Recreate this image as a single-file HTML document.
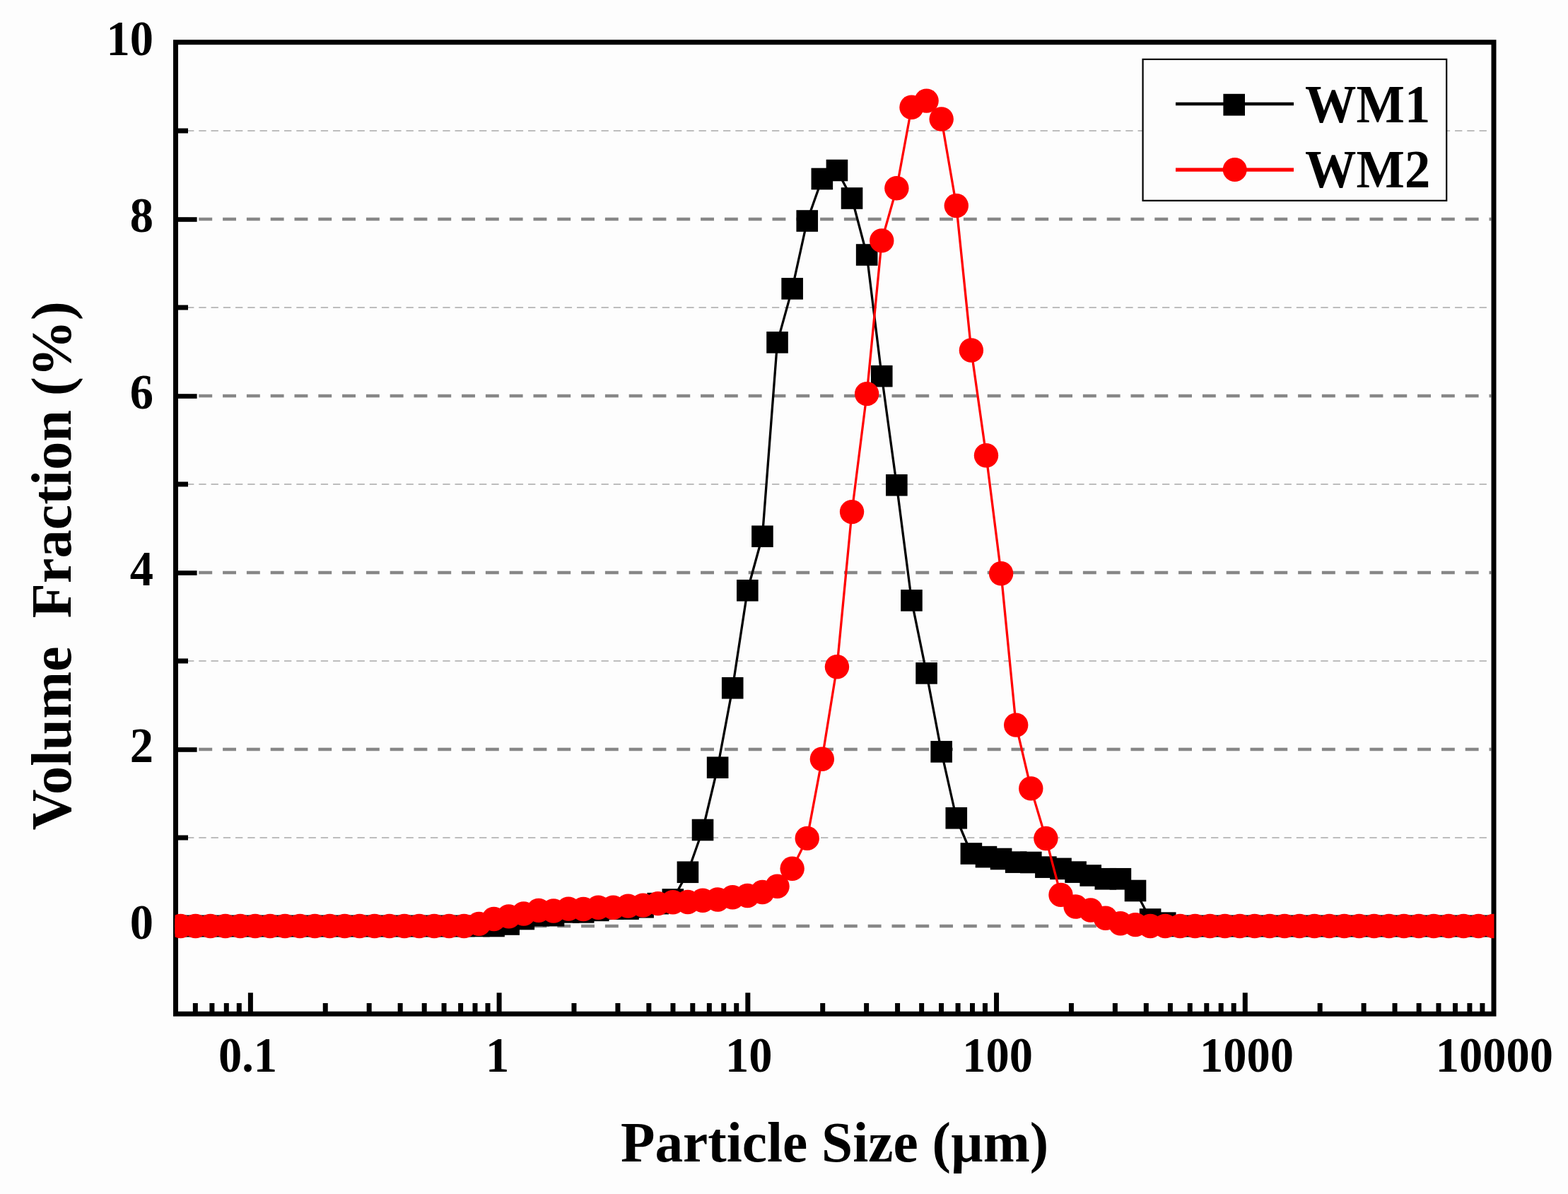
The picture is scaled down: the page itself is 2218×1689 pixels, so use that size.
<!DOCTYPE html>
<html><head><meta charset="utf-8"><title>Particle size distribution</title>
<style>
html,body{margin:0;padding:0;background:#fdfdfd;}
svg{display:block;}
.t{font-family:"Liberation Serif",serif;font-weight:bold;fill:#000;}
</style></head><body>
<svg width="2218" height="1689" viewBox="0 0 2218 1689">
<rect x="0" y="0" width="2218" height="1689" fill="#fdfdfd"/>
<defs><clipPath id="pa"><rect x="247.5" y="59.75" width="1866" height="1374.5"/></clipPath></defs>
<line x1="247.5" y1="1310" x2="2109.5" y2="1310" stroke="#878787" stroke-width="4.3" stroke-dasharray="18.9 14.9"/>
<line x1="247.5" y1="1060" x2="2109.5" y2="1060" stroke="#878787" stroke-width="4.3" stroke-dasharray="18.9 14.9"/>
<line x1="247.5" y1="810" x2="2109.5" y2="810" stroke="#878787" stroke-width="4.3" stroke-dasharray="18.9 14.9"/>
<line x1="247.5" y1="560" x2="2109.5" y2="560" stroke="#878787" stroke-width="4.3" stroke-dasharray="18.9 14.9"/>
<line x1="247.5" y1="310" x2="2109.5" y2="310" stroke="#878787" stroke-width="4.3" stroke-dasharray="18.9 14.9"/>
<line x1="246.8" y1="1185" x2="2109.5" y2="1185" stroke="#bdbdbd" stroke-width="2" stroke-dasharray="10.3 6.95"/>
<line x1="246.8" y1="935" x2="2109.5" y2="935" stroke="#bdbdbd" stroke-width="2" stroke-dasharray="10.3 6.95"/>
<line x1="246.8" y1="685" x2="2109.5" y2="685" stroke="#bdbdbd" stroke-width="2" stroke-dasharray="10.3 6.95"/>
<line x1="246.8" y1="435" x2="2109.5" y2="435" stroke="#bdbdbd" stroke-width="2" stroke-dasharray="10.3 6.95"/>
<line x1="246.8" y1="185" x2="2109.5" y2="185" stroke="#bdbdbd" stroke-width="2" stroke-dasharray="10.3 6.95"/>
<rect x="248.5" y="59.75" width="1864.5" height="1374.5" fill="none" stroke="#000" stroke-width="7"/>
<line x1="248.5" y1="1310.5" x2="278.6" y2="1310.5" stroke="#000" stroke-width="6.6"/>
<line x1="248.5" y1="1060.5" x2="278.6" y2="1060.5" stroke="#000" stroke-width="6.6"/>
<line x1="248.5" y1="810.5" x2="278.6" y2="810.5" stroke="#000" stroke-width="6.6"/>
<line x1="248.5" y1="560.5" x2="278.6" y2="560.5" stroke="#000" stroke-width="6.6"/>
<line x1="248.5" y1="310.5" x2="278.6" y2="310.5" stroke="#000" stroke-width="6.6"/>
<line x1="248.5" y1="1185" x2="266" y2="1185" stroke="#000" stroke-width="7"/>
<line x1="248.5" y1="935" x2="266" y2="935" stroke="#000" stroke-width="7"/>
<line x1="248.5" y1="685" x2="266" y2="685" stroke="#000" stroke-width="7"/>
<line x1="248.5" y1="435" x2="266" y2="435" stroke="#000" stroke-width="7"/>
<line x1="248.5" y1="185" x2="266" y2="185" stroke="#000" stroke-width="7"/>
<line x1="354.38" y1="1434.25" x2="354.38" y2="1404.3" stroke="#000" stroke-width="7"/>
<line x1="706.1" y1="1434.25" x2="706.1" y2="1404.3" stroke="#000" stroke-width="7"/>
<line x1="1057.83" y1="1434.25" x2="1057.83" y2="1404.3" stroke="#000" stroke-width="7"/>
<line x1="1409.55" y1="1434.25" x2="1409.55" y2="1404.3" stroke="#000" stroke-width="7"/>
<line x1="1761.28" y1="1434.25" x2="1761.28" y2="1404.3" stroke="#000" stroke-width="7"/>
<line x1="276.35" y1="1434.25" x2="276.35" y2="1419" stroke="#000" stroke-width="7"/>
<line x1="299.9" y1="1434.25" x2="299.9" y2="1419" stroke="#000" stroke-width="7"/>
<line x1="320.29" y1="1434.25" x2="320.29" y2="1419" stroke="#000" stroke-width="7"/>
<line x1="338.29" y1="1434.25" x2="338.29" y2="1419" stroke="#000" stroke-width="7"/>
<line x1="460.26" y1="1434.25" x2="460.26" y2="1419" stroke="#000" stroke-width="7"/>
<line x1="522.19" y1="1434.25" x2="522.19" y2="1419" stroke="#000" stroke-width="7"/>
<line x1="566.14" y1="1434.25" x2="566.14" y2="1419" stroke="#000" stroke-width="7"/>
<line x1="600.22" y1="1434.25" x2="600.22" y2="1419" stroke="#000" stroke-width="7"/>
<line x1="628.07" y1="1434.25" x2="628.07" y2="1419" stroke="#000" stroke-width="7"/>
<line x1="651.62" y1="1434.25" x2="651.62" y2="1419" stroke="#000" stroke-width="7"/>
<line x1="672.02" y1="1434.25" x2="672.02" y2="1419" stroke="#000" stroke-width="7"/>
<line x1="690.01" y1="1434.25" x2="690.01" y2="1419" stroke="#000" stroke-width="7"/>
<line x1="811.98" y1="1434.25" x2="811.98" y2="1419" stroke="#000" stroke-width="7"/>
<line x1="873.92" y1="1434.25" x2="873.92" y2="1419" stroke="#000" stroke-width="7"/>
<line x1="917.86" y1="1434.25" x2="917.86" y2="1419" stroke="#000" stroke-width="7"/>
<line x1="951.95" y1="1434.25" x2="951.95" y2="1419" stroke="#000" stroke-width="7"/>
<line x1="979.8" y1="1434.25" x2="979.8" y2="1419" stroke="#000" stroke-width="7"/>
<line x1="1003.34" y1="1434.25" x2="1003.34" y2="1419" stroke="#000" stroke-width="7"/>
<line x1="1023.74" y1="1434.25" x2="1023.74" y2="1419" stroke="#000" stroke-width="7"/>
<line x1="1041.73" y1="1434.25" x2="1041.73" y2="1419" stroke="#000" stroke-width="7"/>
<line x1="1163.71" y1="1434.25" x2="1163.71" y2="1419" stroke="#000" stroke-width="7"/>
<line x1="1225.64" y1="1434.25" x2="1225.64" y2="1419" stroke="#000" stroke-width="7"/>
<line x1="1269.59" y1="1434.25" x2="1269.59" y2="1419" stroke="#000" stroke-width="7"/>
<line x1="1303.67" y1="1434.25" x2="1303.67" y2="1419" stroke="#000" stroke-width="7"/>
<line x1="1331.52" y1="1434.25" x2="1331.52" y2="1419" stroke="#000" stroke-width="7"/>
<line x1="1355.07" y1="1434.25" x2="1355.07" y2="1419" stroke="#000" stroke-width="7"/>
<line x1="1375.47" y1="1434.25" x2="1375.47" y2="1419" stroke="#000" stroke-width="7"/>
<line x1="1393.46" y1="1434.25" x2="1393.46" y2="1419" stroke="#000" stroke-width="7"/>
<line x1="1515.43" y1="1434.25" x2="1515.43" y2="1419" stroke="#000" stroke-width="7"/>
<line x1="1577.37" y1="1434.25" x2="1577.37" y2="1419" stroke="#000" stroke-width="7"/>
<line x1="1621.31" y1="1434.25" x2="1621.31" y2="1419" stroke="#000" stroke-width="7"/>
<line x1="1655.4" y1="1434.25" x2="1655.4" y2="1419" stroke="#000" stroke-width="7"/>
<line x1="1683.25" y1="1434.25" x2="1683.25" y2="1419" stroke="#000" stroke-width="7"/>
<line x1="1706.79" y1="1434.25" x2="1706.79" y2="1419" stroke="#000" stroke-width="7"/>
<line x1="1727.19" y1="1434.25" x2="1727.19" y2="1419" stroke="#000" stroke-width="7"/>
<line x1="1745.18" y1="1434.25" x2="1745.18" y2="1419" stroke="#000" stroke-width="7"/>
<line x1="1867.16" y1="1434.25" x2="1867.16" y2="1419" stroke="#000" stroke-width="7"/>
<line x1="1929.09" y1="1434.25" x2="1929.09" y2="1419" stroke="#000" stroke-width="7"/>
<line x1="1973.03" y1="1434.25" x2="1973.03" y2="1419" stroke="#000" stroke-width="7"/>
<line x1="2007.12" y1="1434.25" x2="2007.12" y2="1419" stroke="#000" stroke-width="7"/>
<line x1="2034.97" y1="1434.25" x2="2034.97" y2="1419" stroke="#000" stroke-width="7"/>
<line x1="2058.52" y1="1434.25" x2="2058.52" y2="1419" stroke="#000" stroke-width="7"/>
<line x1="2078.91" y1="1434.25" x2="2078.91" y2="1419" stroke="#000" stroke-width="7"/>
<line x1="2096.91" y1="1434.25" x2="2096.91" y2="1419" stroke="#000" stroke-width="7"/>
<g clip-path="url(#pa)">
<polyline points="2.16,1310 23.26,1310 44.36,1310 65.47,1310 86.57,1310 107.67,1310 128.78,1310 149.88,1310 170.98,1310 192.09,1310 213.19,1310 234.29,1310 255.4,1310 276.5,1310 297.6,1310 318.71,1310 339.81,1310 360.91,1310 382.02,1310 403.12,1310 424.22,1310 445.33,1310 466.43,1310 487.53,1310 508.64,1310 529.74,1310 550.84,1310 571.95,1310 593.05,1310 614.16,1310 635.26,1310 656.36,1310 677.47,1310 698.57,1310 719.67,1307.5 740.78,1300 761.88,1295.12 782.98,1295.12 804.09,1290.38 825.19,1290.38 846.29,1287.88 867.4,1285.62 888.5,1285.62 909.6,1283.25 930.71,1278.12 951.81,1272.5 972.91,1233.75 994.02,1174 1015.12,1085.75 1036.22,973.25 1057.33,835.25 1078.43,758.75 1099.53,484.38 1120.64,408.38 1141.74,312.5 1162.84,253 1183.95,241 1205.05,280.5 1226.16,360.5 1247.26,532.12 1268.36,686.25 1289.47,849.38 1310.57,952.38 1331.67,1063.38 1352.78,1157.25 1373.88,1207.5 1394.98,1212.12 1416.09,1215 1437.19,1219.62 1458.29,1220 1479.4,1226.62 1500.5,1228.88 1521.6,1233.62 1542.71,1238.5 1563.81,1243.25 1584.91,1243.25 1606.02,1260 1627.12,1300.5 1648.22,1305.62 1669.33,1310 1690.43,1310 1711.53,1310 1732.64,1310 1753.74,1310 1774.84,1310 1795.95,1310 1817.05,1310 1838.16,1310 1859.26,1310 1880.36,1310 1901.47,1310 1922.57,1310 1943.67,1310 1964.78,1310 1985.88,1310 2006.98,1310 2028.09,1310 2049.19,1310 2070.29,1310 2091.4,1310 2112.5,1310" fill="none" stroke="#000" stroke-width="3.3" stroke-linejoin="round"/>
<rect x="197.89" y="1294.7" width="30.6" height="30.6" fill="#000"/><rect x="218.99" y="1294.7" width="30.6" height="30.6" fill="#000"/><rect x="240.1" y="1294.7" width="30.6" height="30.6" fill="#000"/><rect x="261.2" y="1294.7" width="30.6" height="30.6" fill="#000"/><rect x="282.3" y="1294.7" width="30.6" height="30.6" fill="#000"/><rect x="303.41" y="1294.7" width="30.6" height="30.6" fill="#000"/><rect x="324.51" y="1294.7" width="30.6" height="30.6" fill="#000"/><rect x="345.61" y="1294.7" width="30.6" height="30.6" fill="#000"/><rect x="366.72" y="1294.7" width="30.6" height="30.6" fill="#000"/><rect x="387.82" y="1294.7" width="30.6" height="30.6" fill="#000"/><rect x="408.92" y="1294.7" width="30.6" height="30.6" fill="#000"/><rect x="430.03" y="1294.7" width="30.6" height="30.6" fill="#000"/><rect x="451.13" y="1294.7" width="30.6" height="30.6" fill="#000"/><rect x="472.23" y="1294.7" width="30.6" height="30.6" fill="#000"/><rect x="493.34" y="1294.7" width="30.6" height="30.6" fill="#000"/><rect x="514.44" y="1294.7" width="30.6" height="30.6" fill="#000"/><rect x="535.54" y="1294.7" width="30.6" height="30.6" fill="#000"/><rect x="556.65" y="1294.7" width="30.6" height="30.6" fill="#000"/><rect x="577.75" y="1294.7" width="30.6" height="30.6" fill="#000"/><rect x="598.86" y="1294.7" width="30.6" height="30.6" fill="#000"/><rect x="619.96" y="1294.7" width="30.6" height="30.6" fill="#000"/><rect x="641.06" y="1294.7" width="30.6" height="30.6" fill="#000"/><rect x="662.17" y="1294.7" width="30.6" height="30.6" fill="#000"/><rect x="683.27" y="1294.7" width="30.6" height="30.6" fill="#000"/><rect x="704.37" y="1292.2" width="30.6" height="30.6" fill="#000"/><rect x="725.48" y="1284.7" width="30.6" height="30.6" fill="#000"/><rect x="746.58" y="1279.83" width="30.6" height="30.6" fill="#000"/><rect x="767.68" y="1279.83" width="30.6" height="30.6" fill="#000"/><rect x="788.79" y="1275.08" width="30.6" height="30.6" fill="#000"/><rect x="809.89" y="1275.08" width="30.6" height="30.6" fill="#000"/><rect x="830.99" y="1272.58" width="30.6" height="30.6" fill="#000"/><rect x="852.1" y="1270.33" width="30.6" height="30.6" fill="#000"/><rect x="873.2" y="1270.33" width="30.6" height="30.6" fill="#000"/><rect x="894.3" y="1267.95" width="30.6" height="30.6" fill="#000"/><rect x="915.41" y="1262.83" width="30.6" height="30.6" fill="#000"/><rect x="936.51" y="1257.2" width="30.6" height="30.6" fill="#000"/><rect x="957.61" y="1218.45" width="30.6" height="30.6" fill="#000"/><rect x="978.72" y="1158.7" width="30.6" height="30.6" fill="#000"/><rect x="999.82" y="1070.45" width="30.6" height="30.6" fill="#000"/><rect x="1020.92" y="957.95" width="30.6" height="30.6" fill="#000"/><rect x="1042.03" y="819.95" width="30.6" height="30.6" fill="#000"/><rect x="1063.13" y="743.45" width="30.6" height="30.6" fill="#000"/><rect x="1084.23" y="469.07" width="30.6" height="30.6" fill="#000"/><rect x="1105.34" y="393.07" width="30.6" height="30.6" fill="#000"/><rect x="1126.44" y="297.2" width="30.6" height="30.6" fill="#000"/><rect x="1147.54" y="237.7" width="30.6" height="30.6" fill="#000"/><rect x="1168.65" y="225.7" width="30.6" height="30.6" fill="#000"/><rect x="1189.75" y="265.2" width="30.6" height="30.6" fill="#000"/><rect x="1210.86" y="345.2" width="30.6" height="30.6" fill="#000"/><rect x="1231.96" y="516.83" width="30.6" height="30.6" fill="#000"/><rect x="1253.06" y="670.95" width="30.6" height="30.6" fill="#000"/><rect x="1274.17" y="834.08" width="30.6" height="30.6" fill="#000"/><rect x="1295.27" y="937.08" width="30.6" height="30.6" fill="#000"/><rect x="1316.37" y="1048.08" width="30.6" height="30.6" fill="#000"/><rect x="1337.48" y="1141.95" width="30.6" height="30.6" fill="#000"/><rect x="1358.58" y="1192.2" width="30.6" height="30.6" fill="#000"/><rect x="1379.68" y="1196.83" width="30.6" height="30.6" fill="#000"/><rect x="1400.79" y="1199.7" width="30.6" height="30.6" fill="#000"/><rect x="1421.89" y="1204.33" width="30.6" height="30.6" fill="#000"/><rect x="1442.99" y="1204.7" width="30.6" height="30.6" fill="#000"/><rect x="1464.1" y="1211.33" width="30.6" height="30.6" fill="#000"/><rect x="1485.2" y="1213.58" width="30.6" height="30.6" fill="#000"/><rect x="1506.3" y="1218.33" width="30.6" height="30.6" fill="#000"/><rect x="1527.41" y="1223.2" width="30.6" height="30.6" fill="#000"/><rect x="1548.51" y="1227.95" width="30.6" height="30.6" fill="#000"/><rect x="1569.61" y="1227.95" width="30.6" height="30.6" fill="#000"/><rect x="1590.72" y="1244.7" width="30.6" height="30.6" fill="#000"/><rect x="1611.82" y="1285.2" width="30.6" height="30.6" fill="#000"/><rect x="1632.92" y="1290.33" width="30.6" height="30.6" fill="#000"/><rect x="1654.03" y="1294.7" width="30.6" height="30.6" fill="#000"/><rect x="1675.13" y="1294.7" width="30.6" height="30.6" fill="#000"/><rect x="1696.23" y="1294.7" width="30.6" height="30.6" fill="#000"/><rect x="1717.34" y="1294.7" width="30.6" height="30.6" fill="#000"/><rect x="1738.44" y="1294.7" width="30.6" height="30.6" fill="#000"/><rect x="1759.54" y="1294.7" width="30.6" height="30.6" fill="#000"/><rect x="1780.65" y="1294.7" width="30.6" height="30.6" fill="#000"/><rect x="1801.75" y="1294.7" width="30.6" height="30.6" fill="#000"/><rect x="1822.86" y="1294.7" width="30.6" height="30.6" fill="#000"/><rect x="1843.96" y="1294.7" width="30.6" height="30.6" fill="#000"/><rect x="1865.06" y="1294.7" width="30.6" height="30.6" fill="#000"/><rect x="1886.17" y="1294.7" width="30.6" height="30.6" fill="#000"/><rect x="1907.27" y="1294.7" width="30.6" height="30.6" fill="#000"/><rect x="1928.37" y="1294.7" width="30.6" height="30.6" fill="#000"/><rect x="1949.48" y="1294.7" width="30.6" height="30.6" fill="#000"/><rect x="1970.58" y="1294.7" width="30.6" height="30.6" fill="#000"/><rect x="1991.68" y="1294.7" width="30.6" height="30.6" fill="#000"/><rect x="2012.79" y="1294.7" width="30.6" height="30.6" fill="#000"/><rect x="2033.89" y="1294.7" width="30.6" height="30.6" fill="#000"/><rect x="2054.99" y="1294.7" width="30.6" height="30.6" fill="#000"/><rect x="2076.1" y="1294.7" width="30.6" height="30.6" fill="#000"/><rect x="2097.2" y="1294.7" width="30.6" height="30.6" fill="#000"/>
<polyline points="2.16,1310 23.26,1310 44.36,1310 65.47,1310 86.57,1310 107.67,1310 128.78,1310 149.88,1310 170.98,1310 192.09,1310 213.19,1310 234.29,1310 255.4,1310 276.5,1310 297.6,1310 318.71,1310 339.81,1310 360.91,1310 382.02,1310 403.12,1310 424.22,1310 445.33,1310 466.43,1310 487.53,1310 508.64,1310 529.74,1310 550.84,1310 571.95,1310 593.05,1310 614.16,1310 635.26,1310 656.36,1310 677.47,1306.88 698.57,1300 719.67,1296.38 740.78,1292.5 761.88,1287.88 782.98,1288.5 804.09,1285.62 825.19,1286 846.29,1283.75 867.4,1283.75 888.5,1281.62 909.6,1280.62 930.71,1278.12 951.81,1276.25 972.91,1276 994.02,1273.75 1015.12,1272.5 1036.22,1269.25 1057.33,1267 1078.43,1262 1099.53,1253.75 1120.64,1228.75 1141.74,1185.88 1162.84,1073.75 1183.95,943.25 1205.05,724.12 1226.16,557.12 1247.26,340.38 1268.36,266.25 1289.47,151.75 1310.57,142.62 1331.67,168.5 1352.78,291 1373.88,495.5 1394.98,644.25 1416.09,811.25 1437.19,1025.62 1458.29,1115.38 1479.4,1186 1500.5,1265.88 1521.6,1282.5 1542.71,1287.5 1563.81,1298.75 1584.91,1306.25 1606.02,1308.12 1627.12,1310 1648.22,1310 1669.33,1310 1690.43,1310 1711.53,1310 1732.64,1310 1753.74,1310 1774.84,1310 1795.95,1310 1817.05,1310 1838.16,1310 1859.26,1310 1880.36,1310 1901.47,1310 1922.57,1310 1943.67,1310 1964.78,1310 1985.88,1310 2006.98,1310 2028.09,1310 2049.19,1310 2070.29,1310 2091.4,1310 2112.5,1310" fill="none" stroke="#ff0000" stroke-width="3.3" stroke-linejoin="round"/>
<circle cx="213.19" cy="1310" r="17.2" fill="#ff0000"/><circle cx="234.29" cy="1310" r="17.2" fill="#ff0000"/><circle cx="255.4" cy="1310" r="17.2" fill="#ff0000"/><circle cx="276.5" cy="1310" r="17.2" fill="#ff0000"/><circle cx="297.6" cy="1310" r="17.2" fill="#ff0000"/><circle cx="318.71" cy="1310" r="17.2" fill="#ff0000"/><circle cx="339.81" cy="1310" r="17.2" fill="#ff0000"/><circle cx="360.91" cy="1310" r="17.2" fill="#ff0000"/><circle cx="382.02" cy="1310" r="17.2" fill="#ff0000"/><circle cx="403.12" cy="1310" r="17.2" fill="#ff0000"/><circle cx="424.22" cy="1310" r="17.2" fill="#ff0000"/><circle cx="445.33" cy="1310" r="17.2" fill="#ff0000"/><circle cx="466.43" cy="1310" r="17.2" fill="#ff0000"/><circle cx="487.53" cy="1310" r="17.2" fill="#ff0000"/><circle cx="508.64" cy="1310" r="17.2" fill="#ff0000"/><circle cx="529.74" cy="1310" r="17.2" fill="#ff0000"/><circle cx="550.84" cy="1310" r="17.2" fill="#ff0000"/><circle cx="571.95" cy="1310" r="17.2" fill="#ff0000"/><circle cx="593.05" cy="1310" r="17.2" fill="#ff0000"/><circle cx="614.16" cy="1310" r="17.2" fill="#ff0000"/><circle cx="635.26" cy="1310" r="17.2" fill="#ff0000"/><circle cx="656.36" cy="1310" r="17.2" fill="#ff0000"/><circle cx="677.47" cy="1306.88" r="17.2" fill="#ff0000"/><circle cx="698.57" cy="1300" r="17.2" fill="#ff0000"/><circle cx="719.67" cy="1296.38" r="17.2" fill="#ff0000"/><circle cx="740.78" cy="1292.5" r="17.2" fill="#ff0000"/><circle cx="761.88" cy="1287.88" r="17.2" fill="#ff0000"/><circle cx="782.98" cy="1288.5" r="17.2" fill="#ff0000"/><circle cx="804.09" cy="1285.62" r="17.2" fill="#ff0000"/><circle cx="825.19" cy="1286" r="17.2" fill="#ff0000"/><circle cx="846.29" cy="1283.75" r="17.2" fill="#ff0000"/><circle cx="867.4" cy="1283.75" r="17.2" fill="#ff0000"/><circle cx="888.5" cy="1281.62" r="17.2" fill="#ff0000"/><circle cx="909.6" cy="1280.62" r="17.2" fill="#ff0000"/><circle cx="930.71" cy="1278.12" r="17.2" fill="#ff0000"/><circle cx="951.81" cy="1276.25" r="17.2" fill="#ff0000"/><circle cx="972.91" cy="1276" r="17.2" fill="#ff0000"/><circle cx="994.02" cy="1273.75" r="17.2" fill="#ff0000"/><circle cx="1015.12" cy="1272.5" r="17.2" fill="#ff0000"/><circle cx="1036.22" cy="1269.25" r="17.2" fill="#ff0000"/><circle cx="1057.33" cy="1267" r="17.2" fill="#ff0000"/><circle cx="1078.43" cy="1262" r="17.2" fill="#ff0000"/><circle cx="1099.53" cy="1253.75" r="17.2" fill="#ff0000"/><circle cx="1120.64" cy="1228.75" r="17.2" fill="#ff0000"/><circle cx="1141.74" cy="1185.88" r="17.2" fill="#ff0000"/><circle cx="1162.84" cy="1073.75" r="17.2" fill="#ff0000"/><circle cx="1183.95" cy="943.25" r="17.2" fill="#ff0000"/><circle cx="1205.05" cy="724.12" r="17.2" fill="#ff0000"/><circle cx="1226.16" cy="557.12" r="17.2" fill="#ff0000"/><circle cx="1247.26" cy="340.38" r="17.2" fill="#ff0000"/><circle cx="1268.36" cy="266.25" r="17.2" fill="#ff0000"/><circle cx="1289.47" cy="151.75" r="17.2" fill="#ff0000"/><circle cx="1310.57" cy="142.62" r="17.2" fill="#ff0000"/><circle cx="1331.67" cy="168.5" r="17.2" fill="#ff0000"/><circle cx="1352.78" cy="291" r="17.2" fill="#ff0000"/><circle cx="1373.88" cy="495.5" r="17.2" fill="#ff0000"/><circle cx="1394.98" cy="644.25" r="17.2" fill="#ff0000"/><circle cx="1416.09" cy="811.25" r="17.2" fill="#ff0000"/><circle cx="1437.19" cy="1025.62" r="17.2" fill="#ff0000"/><circle cx="1458.29" cy="1115.38" r="17.2" fill="#ff0000"/><circle cx="1479.4" cy="1186" r="17.2" fill="#ff0000"/><circle cx="1500.5" cy="1265.88" r="17.2" fill="#ff0000"/><circle cx="1521.6" cy="1282.5" r="17.2" fill="#ff0000"/><circle cx="1542.71" cy="1287.5" r="17.2" fill="#ff0000"/><circle cx="1563.81" cy="1298.75" r="17.2" fill="#ff0000"/><circle cx="1584.91" cy="1306.25" r="17.2" fill="#ff0000"/><circle cx="1606.02" cy="1308.12" r="17.2" fill="#ff0000"/><circle cx="1627.12" cy="1310" r="17.2" fill="#ff0000"/><circle cx="1648.22" cy="1310" r="17.2" fill="#ff0000"/><circle cx="1669.33" cy="1310" r="17.2" fill="#ff0000"/><circle cx="1690.43" cy="1310" r="17.2" fill="#ff0000"/><circle cx="1711.53" cy="1310" r="17.2" fill="#ff0000"/><circle cx="1732.64" cy="1310" r="17.2" fill="#ff0000"/><circle cx="1753.74" cy="1310" r="17.2" fill="#ff0000"/><circle cx="1774.84" cy="1310" r="17.2" fill="#ff0000"/><circle cx="1795.95" cy="1310" r="17.2" fill="#ff0000"/><circle cx="1817.05" cy="1310" r="17.2" fill="#ff0000"/><circle cx="1838.16" cy="1310" r="17.2" fill="#ff0000"/><circle cx="1859.26" cy="1310" r="17.2" fill="#ff0000"/><circle cx="1880.36" cy="1310" r="17.2" fill="#ff0000"/><circle cx="1901.47" cy="1310" r="17.2" fill="#ff0000"/><circle cx="1922.57" cy="1310" r="17.2" fill="#ff0000"/><circle cx="1943.67" cy="1310" r="17.2" fill="#ff0000"/><circle cx="1964.78" cy="1310" r="17.2" fill="#ff0000"/><circle cx="1985.88" cy="1310" r="17.2" fill="#ff0000"/><circle cx="2006.98" cy="1310" r="17.2" fill="#ff0000"/><circle cx="2028.09" cy="1310" r="17.2" fill="#ff0000"/><circle cx="2049.19" cy="1310" r="17.2" fill="#ff0000"/><circle cx="2070.29" cy="1310" r="17.2" fill="#ff0000"/><circle cx="2091.4" cy="1310" r="17.2" fill="#ff0000"/><circle cx="2112.5" cy="1310" r="17.2" fill="#ff0000"/>
</g>
<text class="t" transform="translate(217,1327.6) scale(1,1.044)" font-size="66.5" text-anchor="end">0</text>
<text class="t" transform="translate(217,1077.6) scale(1,1.044)" font-size="66.5" text-anchor="end">2</text>
<text class="t" transform="translate(217,827.6) scale(1,1.044)" font-size="66.5" text-anchor="end">4</text>
<text class="t" transform="translate(217,577.6) scale(1,1.044)" font-size="66.5" text-anchor="end">6</text>
<text class="t" transform="translate(217,327.6) scale(1,1.044)" font-size="66.5" text-anchor="end">8</text>
<text class="t" transform="translate(217,77.6) scale(1,1.044)" font-size="66.5" text-anchor="end">10</text>
<text class="t" transform="translate(350.48,1516.4) scale(1,1.044)" font-size="66.5" text-anchor="middle">0.1</text>
<text class="t" transform="translate(703.7,1516.4) scale(1,1.044)" font-size="66.5" text-anchor="middle">1</text>
<text class="t" transform="translate(1059.33,1516.4) scale(1,1.044)" font-size="66.5" text-anchor="middle">10</text>
<text class="t" transform="translate(1411.15,1516.4) scale(1,1.044)" font-size="66.5" text-anchor="middle">100</text>
<text class="t" transform="translate(1763.38,1516.4) scale(1,1.044)" font-size="66.5" text-anchor="middle">1000</text>
<text class="t" transform="translate(2113.9,1516.4) scale(1,1.044)" font-size="66.5" text-anchor="middle">10000</text>
<text class="t" x="1180.55" y="1642.5" font-size="79.35" text-anchor="middle">Particle Size (µm)</text>
<text class="t" transform="translate(99.6,800.4) rotate(-90)" x="0" y="0" font-size="80.27" text-anchor="middle" xml:space="preserve">Volume  Fraction (%)</text>
<rect x="1616.6" y="83.9" width="429.6" height="199.9" fill="#fdfdfd" stroke="#000" stroke-width="2.2"/>
<line x1="1663" y1="147" x2="1830" y2="147" stroke="#000" stroke-width="4.6"/>
<rect x="1730.4" y="132.8" width="30.6" height="30.8" fill="#000"/>
<line x1="1663" y1="240.15" x2="1830" y2="240.15" stroke="#ff0000" stroke-width="5.1"/>
<circle cx="1746.7" cy="240" r="17" fill="#ff0000"/>
<text class="t" transform="translate(1846,173.3) scale(1,1.055)" font-size="72.5">WM1</text>
<text class="t" transform="translate(1846,265.2) scale(1,1.055)" font-size="72.5">WM2</text>
</svg>
</body></html>
